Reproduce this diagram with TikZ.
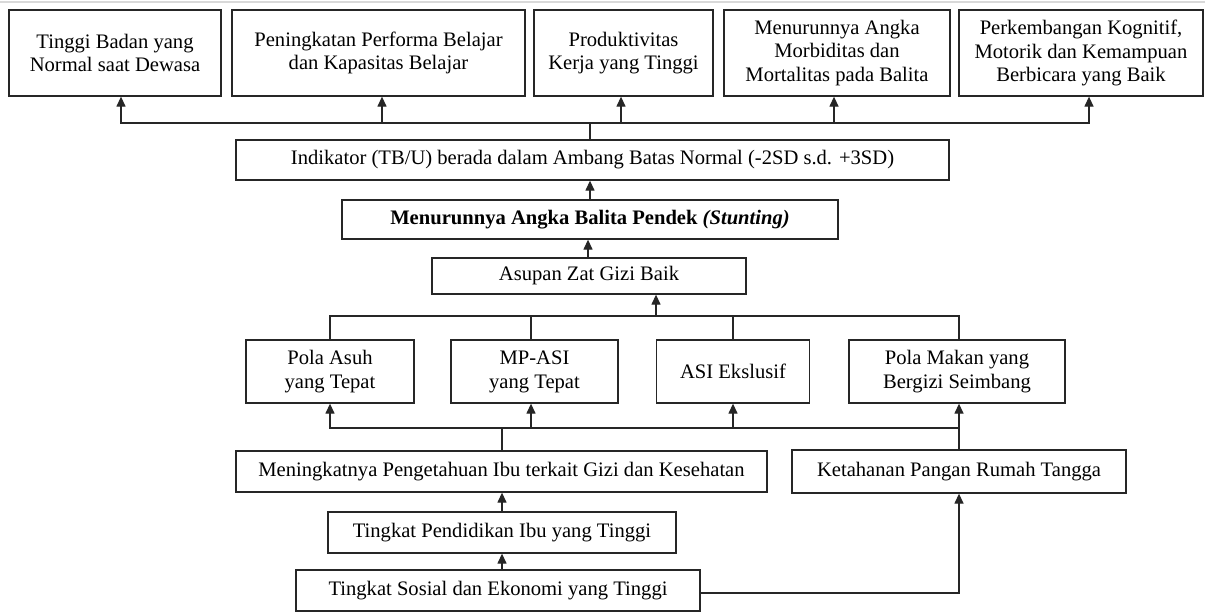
\documentclass[tikz,border=0pt]{standalone}
\usepackage{fontspec}
\setmainfont{Liberation Serif}
\usetikzlibrary{arrows.meta,calc}
\tikzset{
  bx/.style={draw=black!85, line width=1.3pt, inner sep=0pt, align=center,
    font=\fontsize{20.6}{23.8}\selectfont, text=black},
  arr/.style={line width=1.3pt, draw=black!85, -{Triangle[length=10pt,width=9pt]}},
  ln/.style={line width=1.3pt, draw=black!85}
}
\begin{document}
\begin{tikzpicture}[x=1pt,y=-1pt]
\useasboundingbox (0,0) rectangle (1205,613);
\fill[white] (0,0) rectangle (1205,613);
\draw[black!15, line width=2pt] (0,2) -- (1205,2);
% top row
\node[bx, minimum width=212pt, minimum height=86pt] (b1) at (115,53) {Tinggi Badan yang\\Normal saat Dewasa};
\node[bx, minimum width=293pt, minimum height=86pt] (b2) at (378.5,53) {Peningkatan Performa Belajar\\dan Kapasitas Belajar};
\node[bx, minimum width=179pt, minimum height=86pt] (b3) at (623.5,53) {Produktivitas\\Kerja yang Tinggi};
\node[bx, minimum width=226pt, minimum height=86pt] (b4) at (837,53) {Menurunnya Angka\\Morbiditas dan\\Mortalitas pada Balita};
\node[bx, minimum width=244pt, minimum height=86pt] (b5) at (1081,53) {Perkembangan Kognitif,\\Motorik dan Kemampuan\\Berbicara yang Baik};
% middle chain
\node[bx, minimum width=713pt, minimum height=40pt] (ind) at (592.5,160) {Indikator (TB/U) berada dalam Ambang Batas Normal (-2SD s.d. +3SD)};
\node[bx, minimum width=496pt, minimum height=39pt] (stu) at (590,219.5) {\textbf{Menurunnya Angka Balita Pendek \textit{(Stunting)}}};
\node[bx, minimum width=314pt, minimum height=36pt] (asu) at (589,276) {Asupan Zat Gizi Baik};
% four factors
\node[bx, minimum width=168pt, minimum height=63pt] (pa) at (330,371.5) {Pola Asuh\\yang Tepat};
\node[bx, minimum width=167pt, minimum height=63pt] (mp) at (534.5,371.5) {MP-ASI\\yang Tepat};
\node[bx, minimum width=153pt, minimum height=63pt] (asi) at (733,371.5) {ASI Ekslusif};
\node[bx, minimum width=216pt, minimum height=63pt] (pm) at (957,371.5) {Pola Makan yang\\Bergizi Seimbang};
% lower
\node[bx, minimum width=531pt, minimum height=41pt] (men) at (501.5,471.5) {Meningkatnya Pengetahuan Ibu terkait Gizi dan Kesehatan};
\node[bx, minimum width=334pt, minimum height=43pt] (ket) at (959,471.5) {Ketahanan Pangan Rumah Tangga};
\node[bx, minimum width=348pt, minimum height=41pt] (pen) at (502,532.5) {Tingkat Pendidikan Ibu yang Tinggi};
\node[bx, minimum width=404pt, minimum height=41pt] (sos) at (498,590.5) {Tingkat Sosial dan Ekonomi yang Tinggi};
% connectors top
\coordinate (tb) at (590,123);
\draw[ln] (ind.north -| tb) -- (tb);
\draw[arr] (tb) -| ([xshift=6pt]b1.south);
\draw[arr] (tb) -| ([xshift=3.5pt]b2.south);
\draw[arr] (tb) -| ([xshift=-2.5pt]b3.south);
\draw[arr] (tb) -| ([xshift=-3pt]b4.south);
\draw[arr] (tb) -| ([xshift=8pt]b5.south);
\draw[arr] (stu.north) -- (stu.north |- ind.south);
\draw[arr] ([xshift=-1pt]asu.north) -- ([xshift=-1pt]asu.north |- stu.south);
% upper bus
\coordinate (ub) at (656,316);
\draw[arr] (ub) -- (ub |- asu.south);
\draw[ln] (ub) -| (pa.north);
\draw[ln] (ub) -| ([xshift=-3.5pt]mp.north);
\draw[ln] (ub) -| (asi.north);
\draw[ln] (ub) -| ([xshift=2pt]pm.north);
% lower bus
\coordinate (lb) at (502,428);
\draw[ln] (men.north -| lb) -- (lb);
\draw[arr] (lb) -| (pa.south);
\draw[arr] (lb) -| ([xshift=-3.5pt]mp.south);
\draw[arr] (lb) -| (asi.south);
\draw[ln] (lb) -- (lb -| ket.north);
\draw[arr] (ket.north) -- (ket.north |- pm.south);
% bottom chain
\draw[arr] (pen.north -| lb) -- (men.south -| lb);
\draw[arr] (sos.north -| lb) -- (pen.south -| lb);
\coordinate (sb) at (ket.south |- 0,593);
\draw[arr] (sos.east |- sb) -- (sb) -- (ket.south);
\end{tikzpicture}
\end{document}
